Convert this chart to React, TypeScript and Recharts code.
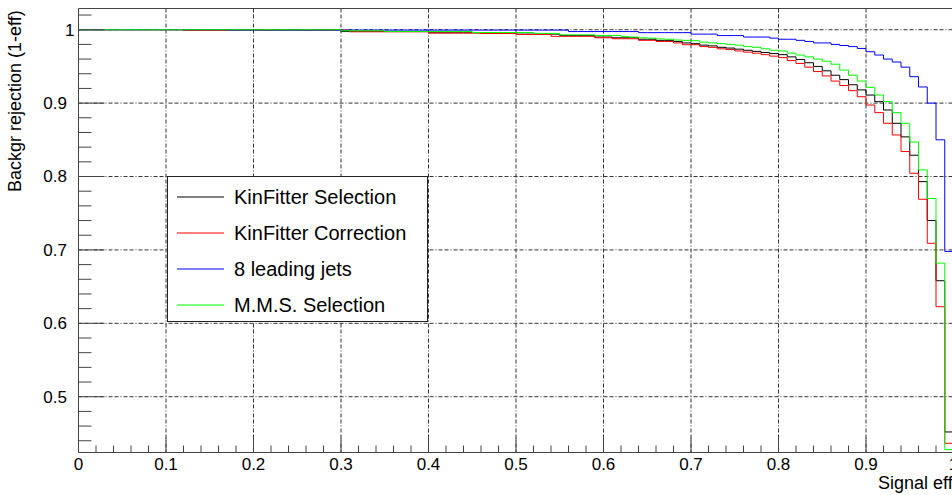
import React from 'react'
import { LineChart, Line, XAxis, YAxis, CartesianGrid, ReferenceLine } from 'recharts'

const FONT = '"Liberation Sans", Arial, Helvetica, sans-serif'
const AXIS_GREY = '#444444'
const GRID_GREY = '#333333'

// bin edges of the 100-bin efficiency histograms (last edge closes the final bin)
const EFF_EDGES = Array.from({ length: 101 }, (_, i) => i / 100)

// background rejection per bin
const KINFIT_SEL = [
  1, 1, 1, 1, 1, 1, 1, 1, 1, 1,
  1, 1, 1, 1, 1, 1, 1, 1, 1, 1,
  1, 1, 1, 1, 1, 1, 1, 1, 1, 1,
  0.9975, 0.9975, 0.9975, 0.9975, 0.9975, 0.9975, 0.9975, 0.9975, 0.9975, 0.9975,
  0.9958, 0.9958, 0.9958, 0.9958, 0.9958, 0.9958, 0.995, 0.995, 0.995, 0.995,
  0.994, 0.994, 0.994, 0.994, 0.994, 0.992, 0.992, 0.992, 0.992, 0.99,
  0.99, 0.989, 0.989, 0.989, 0.987, 0.987, 0.9855, 0.9855, 0.984, 0.982,
  0.981, 0.979, 0.978, 0.976, 0.975, 0.9735, 0.972, 0.9705, 0.969, 0.9675,
  0.966, 0.963, 0.9595, 0.955, 0.95, 0.944, 0.938, 0.932, 0.925, 0.918,
  0.911, 0.902, 0.8906, 0.8725, 0.854, 0.829, 0.793, 0.74, 0.658, 0.452,
  0.452,
]

const KINFIT_CORR = [
  1, 1, 1, 1, 1, 1, 1, 1, 1, 1,
  1, 1, 0.999, 0.999, 0.999, 0.999, 0.999, 0.9995, 0.9995, 0.9995,
  0.9995, 0.9995, 0.9995, 0.9995, 0.9995, 0.9995, 0.9995, 0.9995, 0.9995, 0.9995,
  0.9995, 0.9972, 0.9972, 0.9972, 0.9972, 0.9972, 0.9972, 0.9972, 0.9972, 0.9972,
  0.9955, 0.9955, 0.9955, 0.9955, 0.9955, 0.9955, 0.9948, 0.9948, 0.9948, 0.9948,
  0.9935, 0.9935, 0.9935, 0.9935, 0.991, 0.991, 0.991, 0.991, 0.991, 0.989,
  0.989, 0.9877, 0.9877, 0.9877, 0.9855, 0.9855, 0.984, 0.984, 0.982, 0.9796,
  0.9796, 0.977, 0.976, 0.974, 0.973, 0.971, 0.9695, 0.968, 0.966, 0.964,
  0.962, 0.958, 0.954, 0.949, 0.943, 0.937, 0.93, 0.924, 0.917, 0.9087,
  0.8974, 0.887, 0.8725, 0.8566, 0.834, 0.8044, 0.769, 0.709, 0.6226, 0.4365,
  0.4365,
]

const LEADING_JETS = [
  1, 1, 1, 1, 1, 1, 1, 1, 1, 1,
  1, 1, 1, 1, 1, 1, 1, 0.9995, 0.9995, 0.9995,
  0.9995, 0.9995, 0.9995, 0.9995, 0.9995, 0.9995, 0.9995, 0.9995, 0.9995, 0.9995,
  0.9995, 0.9995, 0.9995, 0.9995, 0.9995, 0.9995, 0.9995, 0.9995, 0.9995, 0.9995,
  0.9995, 0.9995, 0.9995, 0.9995, 0.9995, 0.9995, 0.9995, 0.9995, 0.9995, 0.9995,
  0.9995, 0.9995, 0.9995, 0.9995, 0.9995, 0.9995, 0.9975, 0.9975, 0.9975, 0.9975,
  0.9975, 0.9975, 0.9975, 0.9975, 0.996, 0.996, 0.996, 0.996, 0.996, 0.996,
  0.994, 0.994, 0.994, 0.992, 0.992, 0.992, 0.99, 0.99, 0.99, 0.9885,
  0.987, 0.987, 0.9855, 0.984, 0.982, 0.982, 0.98, 0.9785, 0.977, 0.9745,
  0.97, 0.9655, 0.96, 0.956, 0.949, 0.936, 0.922, 0.9, 0.85, 0.698,
  0.698,
]

const MMS_SEL = [
  1, 1, 1, 1, 1, 1, 1, 1, 1, 1,
  1, 1, 1, 1, 1, 1, 1, 1, 1, 1,
  1, 1, 1, 1, 1, 1, 1, 1, 1, 1,
  0.9985, 0.9985, 0.9985, 0.9985, 0.9985, 0.9975, 0.9975, 0.9975, 0.9975, 0.9975,
  0.9975, 0.9975, 0.9975, 0.9975, 0.9975, 0.9962, 0.9962, 0.9962, 0.9962, 0.9962,
  0.9962, 0.9962, 0.995, 0.995, 0.995, 0.993, 0.993, 0.993, 0.993, 0.992,
  0.992, 0.992, 0.9905, 0.99, 0.989, 0.9885, 0.9875, 0.987, 0.986, 0.9855,
  0.985, 0.983, 0.982, 0.981, 0.98, 0.979, 0.977, 0.976, 0.974, 0.972,
  0.971, 0.968, 0.9655, 0.963, 0.96, 0.957, 0.953, 0.945, 0.938, 0.93,
  0.9215, 0.911, 0.902, 0.887, 0.8725, 0.847, 0.809, 0.77, 0.682, 0.428,
  0.428,
]

const SERIES = [
  { key: 'kinSel', name: 'KinFitter Selection', color: '#000000', values: KINFIT_SEL },
  { key: 'kinCorr', name: 'KinFitter Correction', color: '#ff0000', values: KINFIT_CORR },
  { key: 'jets', name: '8 leading jets', color: '#0000ff', values: LEADING_JETS },
  { key: 'mms', name: 'M.M.S. Selection', color: '#00ff00', values: MMS_SEL },
]

const X_MAJOR = [0, 0.1, 0.2, 0.3, 0.4, 0.5, 0.6, 0.7, 0.8, 0.9, 1]
const Y_MAJOR = [0.5, 0.6, 0.7, 0.8, 0.9, 1]
const X_TICKS = Array.from({ length: 51 }, (_, i) => (i * 2) / 100)
const Y_TICKS = Array.from({ length: 30 }, (_, i) => (44 + i * 2) / 100)
const Y_MIN = 0.424
const Y_MAX = 1.0289

const rows = EFF_EDGES.map((eff, i) => {
  const row: Record<string, number> = { eff }
  SERIES.forEach(s => { row[s.key] = s.values[i] })
  return row
})

const isMajor = (v: number) => Math.abs(v * 10 - Math.round(v * 10)) < 1e-6
const fmt = (v: number) => String(Math.round(v * 10) / 10)

// grid only at the major ticks, placed through the axis scales
const gridX = ({ xAxis, offset }: any) => {
  const vals = X_MAJOR.filter(v => v > 0 && v < 1)
  if (xAxis && typeof xAxis.scale === 'function') return vals.map(v => xAxis.scale(v))
  return vals.map(v => offset.left + v * offset.width)
}
const gridY = ({ yAxis, offset }: any) => {
  if (yAxis && typeof yAxis.scale === 'function') return Y_MAJOR.map(v => yAxis.scale(v))
  return Y_MAJOR.map(v => offset.top + ((Y_MAX - v) / (Y_MAX - Y_MIN)) * offset.height)
}

function XTick(props: any) {
  const { x, y, payload } = props
  const v = payload.value
  const major = isMajor(v)
  return (
    <g>
      <line x1={x} x2={x} y1={y} y2={y - (major ? 15 : 7)} stroke={AXIS_GREY} />
      {major && (
        <text x={x} y={y + 17.5} textAnchor="middle" fontSize={17} fontFamily={FONT} fill="#000">
          {fmt(v)}
        </text>
      )}
    </g>
  )
}

function YTick(props: any) {
  const { x, y, payload } = props
  const v = payload.value
  const major = isMajor(v)
  return (
    <g>
      <line x1={x} x2={x + (major ? 26 : 13)} y1={y} y2={y} stroke={AXIS_GREY} />
      {major && (
        <text x={v === 1 ? x - 4 : x - 11.5} y={y} dy="0.35em" textAnchor="end" fontSize={17} fontFamily={FONT} fill="#000">
          {fmt(v)}
        </text>
      )}
    </g>
  )
}

function LegendBox() {
  return (
    <div style={{
      position: 'absolute', left: 167, top: 176, width: 261, height: 146,
      boxSizing: 'border-box', border: '1px solid #222', background: '#fff',
      fontFamily: FONT, fontSize: 20, color: '#000',
    }}>
      {SERIES.map((s, i) => (
        <div key={s.key} style={{
          position: 'absolute', left: 0, top: 2 + i * 36, height: 36,
          display: 'flex', alignItems: 'center', whiteSpace: 'nowrap',
        }}>
          <svg width={47} height={2} style={{ marginLeft: 9, display: 'block' }}>
            <line x1={0} x2={47} y1={1} y2={1} stroke={s.color} strokeWidth={1.2} />
          </svg>
          <span style={{ marginLeft: 10 }}>{s.name}</span>
        </div>
      ))}
    </div>
  )
}

export default function App() {
  return (
    <div style={{ position: 'absolute', left: 0, top: 0, width: 952, height: 495, overflow: 'hidden', background: '#fff' }}>
      <LineChart width={960} height={495} data={rows} margin={{ top: 8.5, right: 6.5, left: 0, bottom: 0 }}>
        <CartesianGrid
          stroke={GRID_GREY} strokeDasharray="4 2 4 2 1 2"
          verticalCoordinatesGenerator={gridX} horizontalCoordinatesGenerator={gridY}
        />
        <XAxis
          dataKey="eff" type="number" domain={[0, 1]} ticks={X_TICKS} interval={0}
          allowDataOverflow height={42.5} tickSize={0} tickMargin={0} tickLine={false}
          axisLine={{ stroke: AXIS_GREY }} tick={XTick}
        />
        <YAxis
          type="number" domain={[Y_MIN, Y_MAX]} ticks={Y_TICKS} interval={0}
          allowDataOverflow width={78.5} tickSize={0} tickMargin={0} tickLine={false}
          axisLine={{ stroke: AXIS_GREY }} tick={YTick}
        />
        <ReferenceLine y={Y_MAX} stroke={AXIS_GREY} ifOverflow="visible" />
        {SERIES.map(s => (
          <Line
            key={s.key} dataKey={s.key} name={s.name} type="stepAfter" stroke={s.color}
            strokeWidth={1} dot={false} activeDot={false} isAnimationActive={false}
          />
        ))}
      </LineChart>
      <LegendBox />
      <div style={{
        position: 'absolute', left: 6, top: 192, transformOrigin: 'left top', transform: 'rotate(-90deg)',
        fontFamily: FONT, fontSize: 18, lineHeight: '18px', whiteSpace: 'nowrap', color: '#000',
      }}>
        Backgr rejection (1-eff)
      </div>
      <div style={{
        position: 'absolute', left: 878, top: 477.3, fontFamily: FONT, fontSize: 18,
        lineHeight: '13px', whiteSpace: 'nowrap', color: '#000',
      }}>
        Signal efficiency
      </div>
    </div>
  )
}
